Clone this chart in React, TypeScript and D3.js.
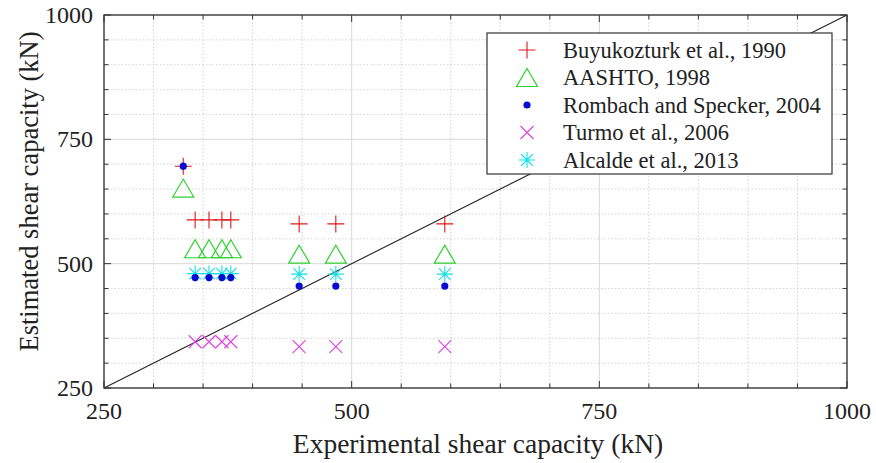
import React from "react";
import * as d3 from "d3";

const W = 876;
const H = 463;

// Data (x = experimental, y = estimated), kN
const expCluster = [342, 356, 369, 378];
const expRight = [447, 484, 594];
const expFirst = [330];

const buyukozturkX = [...expFirst, ...expCluster, ...expRight];
const buyukozturkY = [696, 588, 588, 588, 588, 580, 580, 580];
const aashtoX = [...expFirst, ...expCluster, ...expRight];
const aashtoY = [652, 530, 530, 530, 530, 519, 519, 519];
const rombachX = [...expFirst, ...expCluster, ...expRight];
const rombachY = [696, 472, 472, 472, 472, 455, 455, 455];
const turmoX = [...expCluster, ...expRight];
const turmoY = [343, 343, 343, 343, 333, 333, 333];
const alcaldeX = [...expCluster, ...expRight];
const alcaldeY = [480, 480, 480, 480, 479, 479, 479];

const majorTicks = [250, 500, 750, 1000];
const minorTicks = d3.range(250, 1001, 50);

const legendLabels = [
  "Buyukozturk et al., 1990",
  "AASHTO, 1998",
  "Rombach and Specker, 2004",
  "Turmo et al., 2006",
  "Alcalde et al., 2013",
];

const colors = {
  red: "#e01818",
  green: "#2fd02f",
  blue: "#0a0ad0",
  magenta: "#e040e0",
  cyan: "#10e0e8",
};

const FONT = "'Liberation Serif', 'Times New Roman', serif";

function Marker({ type, x, y }: { type: string; x: number; y: number }) {
  if (type === "plus") {
    const s = 8.5;
    return (
      <path
        d={`M${x - s},${y}H${x + s}M${x},${y - s}V${y + s}`}
        stroke={colors.red}
        strokeWidth={1.1}
        fill="none"
      />
    );
  }
  if (type === "tri") {
    const w = 10.5, h = 18;
    return (
      <path
        d={`M${x},${y - h / 2}L${x + w},${y + h / 2}L${x - w},${y + h / 2}Z`}
        stroke={colors.green}
        strokeWidth={1.2}
        fill="none"
      />
    );
  }
  if (type === "dot") {
    return <circle cx={x} cy={y} r={3.6} fill={colors.blue} />;
  }
  if (type === "x") {
    const s = 6.5;
    return (
      <path
        d={`M${x - s},${y - s}L${x + s},${y + s}M${x - s},${y + s}L${x + s},${y - s}`}
        stroke={colors.magenta}
        strokeWidth={1.1}
        fill="none"
      />
    );
  }
  // asterisk
  const s = 8;
  const d = s * 0.72;
  return (
    <path
      d={`M${x - s},${y}H${x + s}M${x},${y - s}V${y + s}M${x - d},${y - d}L${x + d},${y + d}M${x - d},${y + d}L${x + d},${y - d}`}
      stroke={colors.cyan}
      strokeWidth={1.1}
      fill="none"
    />
  );
}

export default function App() {
  const left = 104, right = 847, top = 15, bottom = 388;
  const x = d3.scaleLinear().domain([250, 1000]).range([left, right]);
  const y = d3.scaleLinear().domain([250, 1000]).range([bottom, top]);

  const series = [
    { type: "plus", xs: buyukozturkX, ys: buyukozturkY },
    { type: "tri", xs: aashtoX, ys: aashtoY },
    { type: "x", xs: turmoX, ys: turmoY },
    { type: "star", xs: alcaldeX, ys: alcaldeY },
    { type: "dot", xs: rombachX, ys: rombachY },
  ];

  const legendTypes = ["plus", "tri", "dot", "x", "star"];
  const lgLeft = 487, lgTop = 33, lgRight = 832, lgBottom = 174;
  const lgY0 = 50, lgStep = 27.5;

  return (
    <svg
      width={W}
      height={H}
      style={{ position: "absolute", left: 0, top: 0, background: "#fff" }}
    >
      <rect x={0} y={0} width={W} height={H} fill="#fff" />
      {/* minor grid */}
      {minorTicks
        .filter((t) => !majorTicks.includes(t))
        .map((t) => (
          <g key={"mg" + t}>
            <line x1={x(t)} x2={x(t)} y1={top} y2={bottom} stroke="#c8c8c8" strokeWidth={0.8} strokeDasharray="1.5,2" />
            <line x1={left} x2={right} y1={y(t)} y2={y(t)} stroke="#c8c8c8" strokeWidth={0.8} strokeDasharray="1.5,2" />
          </g>
        ))}
      {/* major grid */}
      {majorTicks.map((t) => (
        <g key={"Mg" + t}>
          <line x1={x(t)} x2={x(t)} y1={top} y2={bottom} stroke="#d8d8d8" strokeWidth={1} />
          <line x1={left} x2={right} y1={y(t)} y2={y(t)} stroke="#d8d8d8" strokeWidth={1} />
        </g>
      ))}
      {/* diagonal */}
      <line x1={x(250)} y1={y(250)} x2={x(1000)} y2={y(1000)} stroke="#222" strokeWidth={1.1} />
      {/* series */}
      {series.map((s) =>
        s.xs.map((xv, i) => (
          <Marker key={s.type + i} type={s.type} x={x(xv)} y={y(s.ys[i])} />
        ))
      )}
      {/* ticks */}
      {minorTicks.map((t) => {
        const len = majorTicks.includes(t) ? 7 : 4.5;
        return (
          <g key={"tk" + t} stroke="#333" strokeWidth={1}>
            <line x1={x(t)} x2={x(t)} y1={bottom} y2={bottom - len} />
            <line x1={x(t)} x2={x(t)} y1={top} y2={top + len} />
            <line x1={left} x2={left + len} y1={y(t)} y2={y(t)} />
            <line x1={right} x2={right - len} y1={y(t)} y2={y(t)} />
          </g>
        );
      })}
      {/* box */}
      <rect x={left} y={top} width={right - left} height={bottom - top} fill="none" stroke="#333" strokeWidth={1.3} />
      {/* tick labels */}
      {majorTicks.map((t) => (
        <text key={"xl" + t} x={x(t)} y={bottom + 31} textAnchor="middle" fontFamily={FONT} fontSize={24} fill="#222">
          {t}
        </text>
      ))}
      {majorTicks.map((t) => (
        <text key={"yl" + t} x={left - 11} y={y(t) + 8} textAnchor="end" fontFamily={FONT} fontSize={24} fill="#222">
          {t}
        </text>
      ))}
      {/* axis titles */}
      <text x={478} y={453} textAnchor="middle" fontFamily={FONT} fontSize={27.5} fill="#222">
        Experimental shear capacity (kN)
      </text>
      <text
        transform={`translate(38,${(top + bottom) / 2 - 10}) rotate(-90)`}
        textAnchor="middle"
        fontFamily={FONT}
        fontSize={26.5}
        fill="#222"
      >
        Estimated shear capacity (kN)
      </text>
      {/* legend */}
      <rect x={lgLeft} y={lgTop} width={lgRight - lgLeft} height={lgBottom - lgTop} fill="#fff" stroke="#333" strokeWidth={1.2} />
      {legendLabels.map((lab, i) => (
        <g key={"lg" + i}>
          <Marker type={legendTypes[i]} x={527} y={lgY0 + i * lgStep} />
          <text x={563} y={lgY0 + i * lgStep + 7.5} fontFamily={FONT} fontSize={22.5} fill="#222">
            {lab}
          </text>
        </g>
      ))}
    </svg>
  );
}
